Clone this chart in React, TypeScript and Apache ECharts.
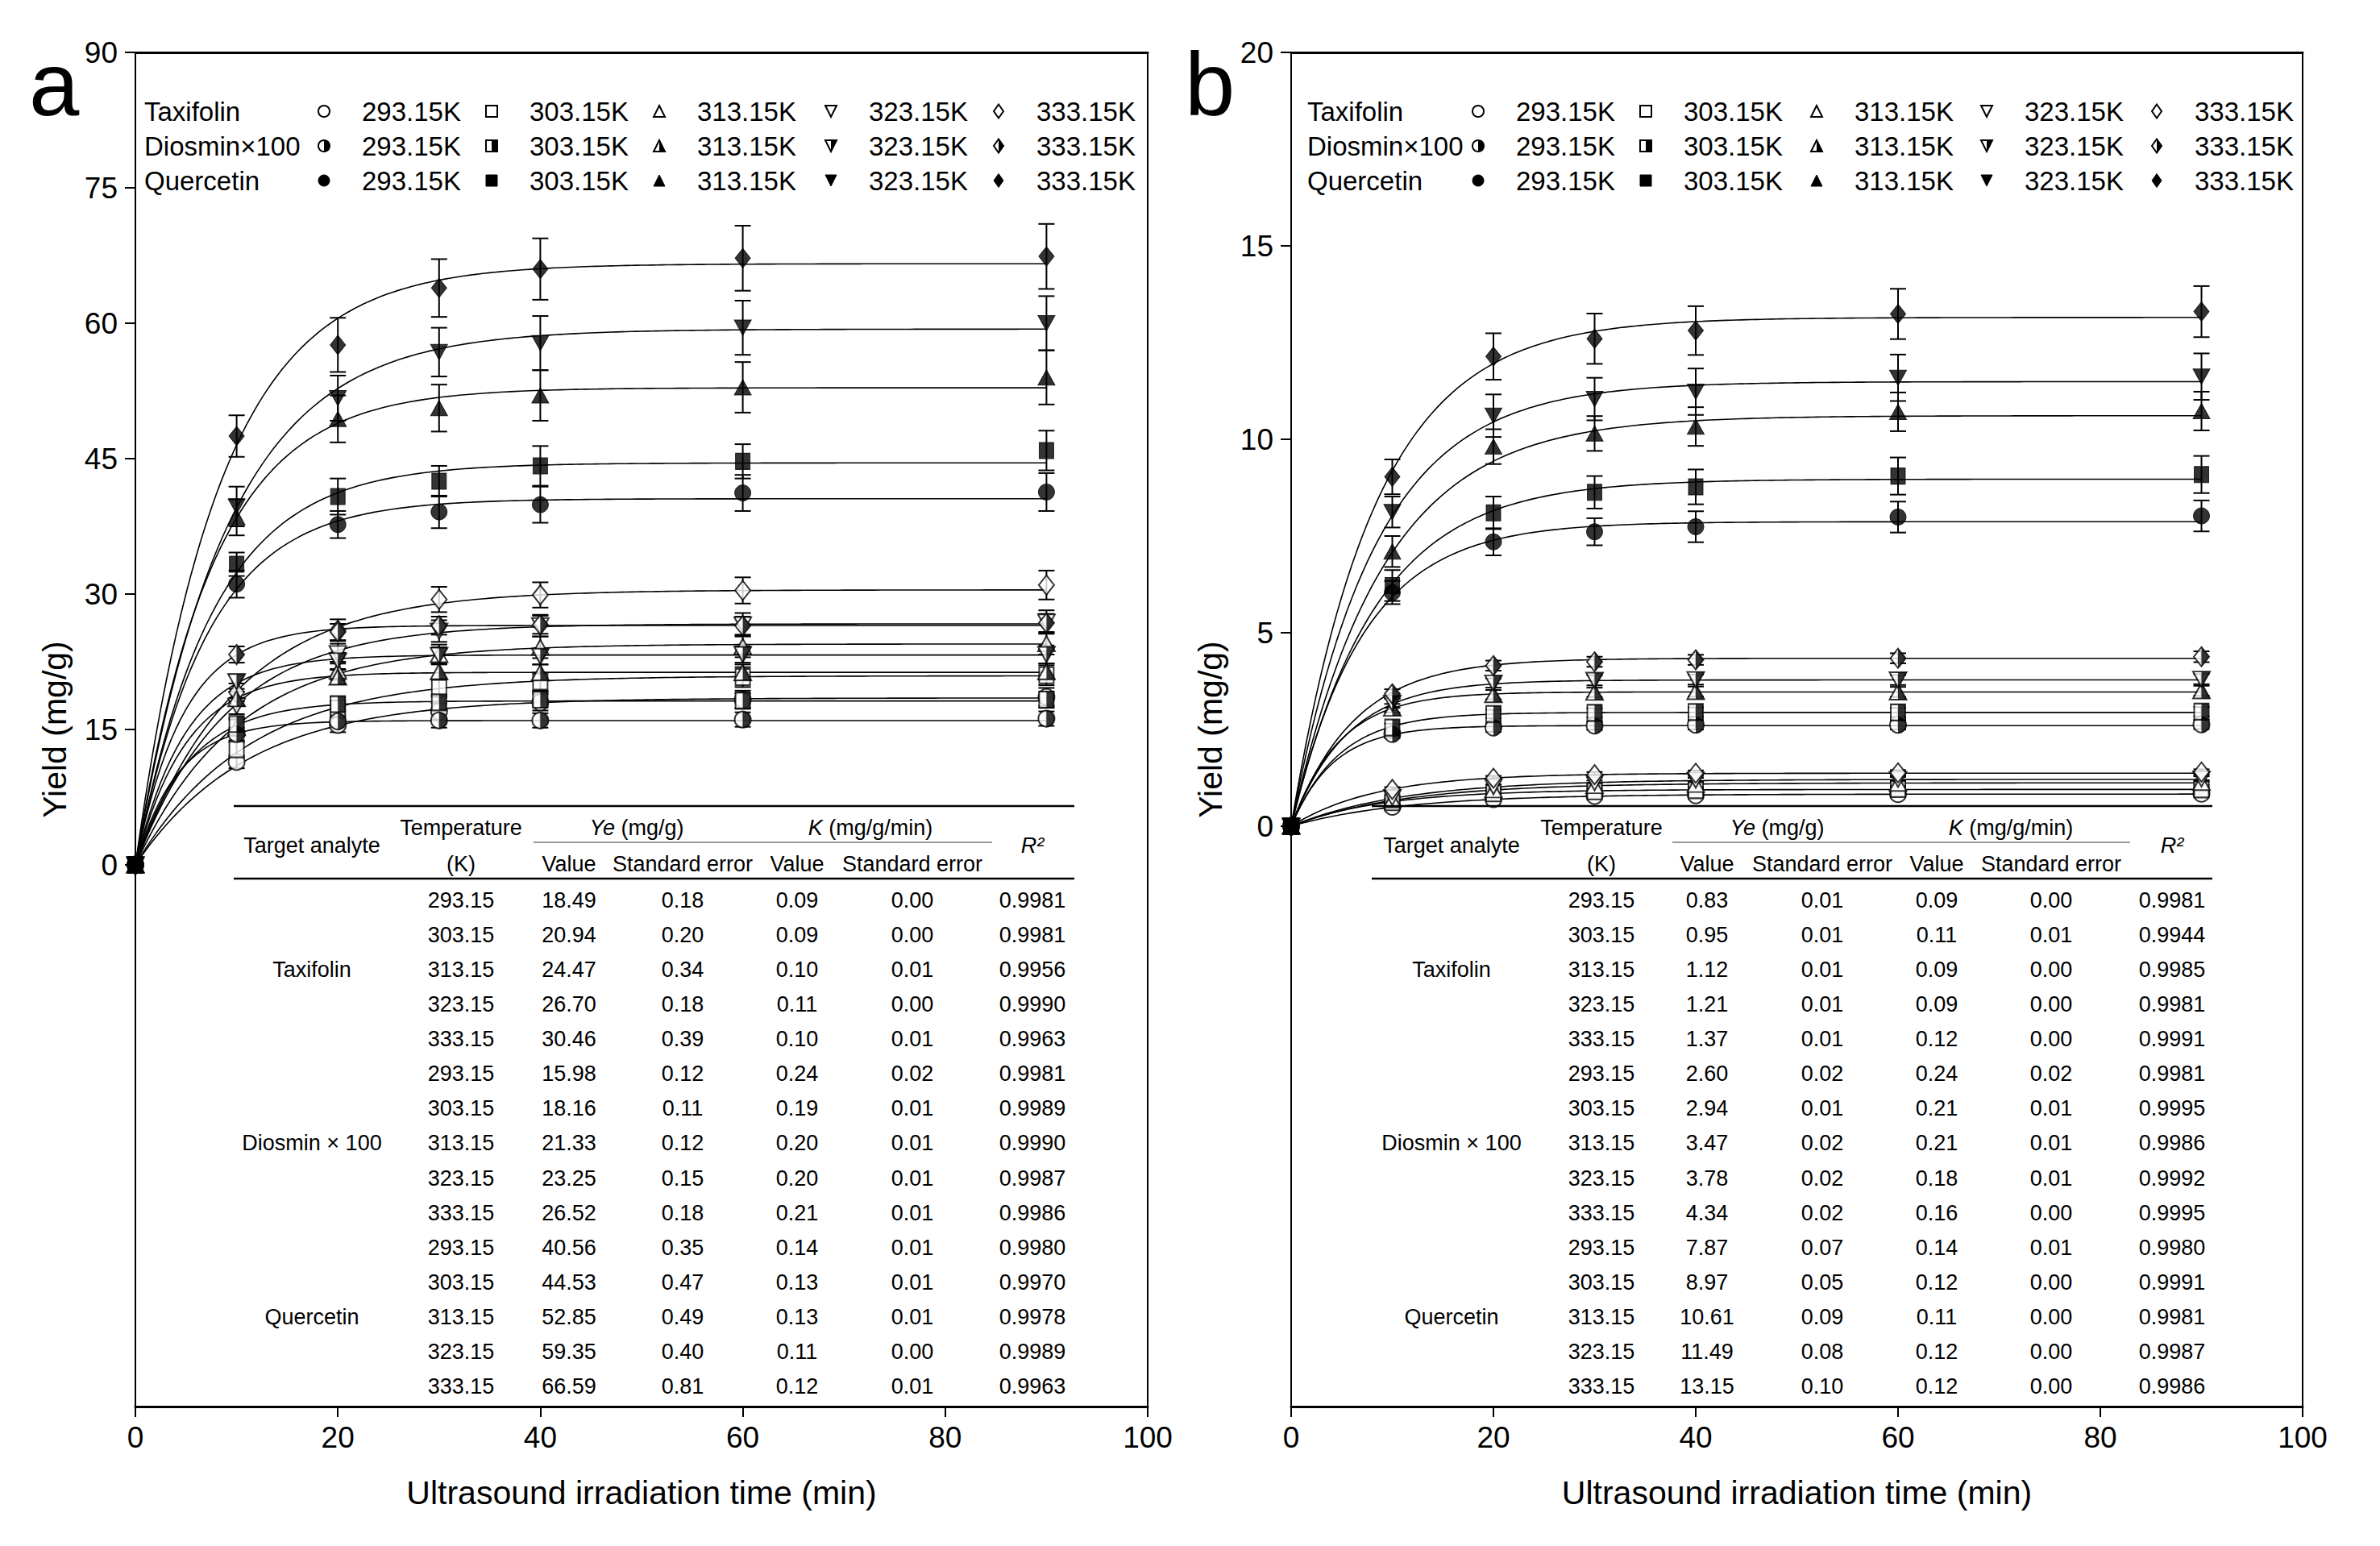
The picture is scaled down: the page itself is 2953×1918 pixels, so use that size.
import React, { useEffect, useRef } from "react";
import * as echarts from "echarts";

const FONT = '"Liberation Sans", Arial, Helvetica, sans-serif';

// ---------- categories / ticks ----------
const TIMES = [0, 10, 20, 30, 40, 60, 90];
const TEMPERATURES = ["293.15", "303.15", "313.15", "323.15", "333.15"];
const LEGEND_ROWS = ["Taxifolin", "Diosmin×100", "Quercetin"];
const TABLE_ANALYTES = ["Taxifolin", "Diosmin × 100", "Quercetin"];
const A_Y_TICKS = [0, 15, 30, 45, 60, 75, 90];
const B_Y_TICKS = [0, 5, 10, 15, 20];

// ---------- panel a: measured points (mg/g) ----------
const A_TAX_POINTS = [
  [0, 11.4, 15.5, 17.0, 18.0, 18.3, 18.6],
  [0, 12.8, 17.3, 19.6, 20.3, 20.8, 21.0],
  [0, 15.2, 21.5, 23.3, 24.1, 24.2, 24.5],
  [0, 17.6, 23.4, 25.9, 26.5, 26.6, 26.9],
  [0, 19.1, 26.0, 29.4, 29.9, 30.4, 31.0],
];
const A_TAX_ERR = [
  [0, 0.7, 0.8, 0.9, 0.9, 1.0, 1.0],
  [0, 0.8, 0.9, 1.0, 1.0, 1.1, 1.1],
  [0, 0.9, 1.0, 1.1, 1.2, 1.2, 1.2],
  [0, 0.9, 1.1, 1.2, 1.2, 1.3, 1.3],
  [0, 1.0, 1.2, 1.4, 1.4, 1.45, 1.6],
];
const A_DIO_POINTS = [
  [0, 14.5, 15.9, 16.0, 16.0, 16.1, 16.2],
  [0, 15.6, 17.8, 18.0, 18.3, 18.2, 18.3],
  [0, 18.4, 20.8, 21.4, 21.3, 21.3, 21.4],
  [0, 20.3, 22.6, 23.2, 23.1, 23.3, 23.3],
  [0, 23.3, 25.8, 26.5, 26.6, 26.5, 26.8],
];
const A_DIO_ERR = [
  [0, 0.7, 0.7, 0.8, 0.8, 0.8, 0.8],
  [0, 0.7, 0.8, 0.8, 0.8, 0.8, 0.9],
  [0, 0.8, 0.8, 0.9, 0.9, 0.9, 0.9],
  [0, 0.8, 0.9, 0.9, 0.9, 0.9, 1.0],
  [0, 0.9, 0.9, 1.0, 1.0, 1.0, 1.0],
];
const A_QUE_POINTS = [
  [0, 31.1, 37.7, 39.1, 39.9, 41.2, 41.3],
  [0, 33.3, 40.8, 42.5, 44.2, 44.7, 45.9],
  [0, 38.5, 49.4, 50.6, 52.0, 52.9, 54.0],
  [0, 39.7, 51.7, 56.8, 57.8, 59.5, 60.0],
  [0, 47.5, 57.6, 63.9, 66.0, 67.2, 67.4],
];
const A_QUE_ERR = [
  [0, 1.5, 1.5, 1.8, 2.0, 2.0, 2.1],
  [0, 1.3, 2.0, 1.7, 2.2, 1.9, 2.2],
  [0, 2.0, 2.6, 2.6, 2.8, 2.8, 3.0],
  [0, 2.2, 2.5, 2.7, 3.0, 3.0, 3.0],
  [0, 2.3, 3.0, 3.2, 3.4, 3.6, 3.6],
];

// ---------- panel a: fitted parameters (table) ----------
const A_TAX_YE = [18.49, 20.94, 24.47, 26.7, 30.46];
const A_TAX_YE_SE = [0.18, 0.2, 0.34, 0.18, 0.39];
const A_TAX_K = [0.09, 0.09, 0.1, 0.11, 0.1];
const A_TAX_K_SE = [0.0, 0.0, 0.01, 0.0, 0.01];
const A_TAX_R2 = [0.9981, 0.9981, 0.9956, 0.999, 0.9963];
const A_DIO_YE = [15.98, 18.16, 21.33, 23.25, 26.52];
const A_DIO_YE_SE = [0.12, 0.11, 0.12, 0.15, 0.18];
const A_DIO_K = [0.24, 0.19, 0.2, 0.2, 0.21];
const A_DIO_K_SE = [0.02, 0.01, 0.01, 0.01, 0.01];
const A_DIO_R2 = [0.9981, 0.9989, 0.999, 0.9987, 0.9986];
const A_QUE_YE = [40.56, 44.53, 52.85, 59.35, 66.59];
const A_QUE_YE_SE = [0.35, 0.47, 0.49, 0.4, 0.81];
const A_QUE_K = [0.14, 0.13, 0.13, 0.11, 0.12];
const A_QUE_K_SE = [0.01, 0.01, 0.01, 0.0, 0.01];
const A_QUE_R2 = [0.998, 0.997, 0.9978, 0.9989, 0.9963];

// ---------- panel b: measured points (mg/g) ----------
const B_TAX_POINTS = [
  [0, 0.5, 0.7, 0.78, 0.8, 0.83, 0.84],
  [0, 0.62, 0.85, 0.9, 0.93, 0.96, 0.95],
  [0, 0.68, 0.94, 1.05, 1.08, 1.11, 1.13],
  [0, 0.74, 1.02, 1.12, 1.19, 1.21, 1.22],
  [0, 0.95, 1.24, 1.33, 1.37, 1.38, 1.4],
];
const B_TAX_ERR = [
  [0, 0.04, 0.05, 0.05, 0.05, 0.05, 0.05],
  [0, 0.04, 0.05, 0.05, 0.06, 0.06, 0.06],
  [0, 0.05, 0.05, 0.06, 0.06, 0.06, 0.06],
  [0, 0.05, 0.06, 0.06, 0.06, 0.06, 0.07],
  [0, 0.06, 0.06, 0.07, 0.07, 0.07, 0.07],
];
const B_DIO_POINTS = [
  [0, 2.38, 2.55, 2.6, 2.62, 2.62, 2.63],
  [0, 2.55, 2.9, 2.93, 2.95, 2.94, 2.96],
  [0, 3.05, 3.4, 3.46, 3.48, 3.47, 3.5],
  [0, 3.18, 3.7, 3.77, 3.79, 3.78, 3.8],
  [0, 3.42, 4.15, 4.25, 4.3, 4.34, 4.38],
];
const B_DIO_ERR = [
  [0, 0.1, 0.11, 0.11, 0.12, 0.12, 0.12],
  [0, 0.1, 0.11, 0.12, 0.12, 0.12, 0.12],
  [0, 0.11, 0.12, 0.12, 0.13, 0.13, 0.13],
  [0, 0.12, 0.12, 0.13, 0.13, 0.13, 0.13],
  [0, 0.12, 0.13, 0.13, 0.13, 0.13, 0.14],
];
const B_QUE_POINTS = [
  [0, 6.04, 7.35, 7.61, 7.74, 7.99, 8.02],
  [0, 6.22, 8.1, 8.63, 8.77, 9.05, 9.09],
  [0, 7.1, 9.81, 10.15, 10.33, 10.71, 10.73],
  [0, 8.12, 10.61, 11.04, 11.23, 11.59, 11.62],
  [0, 9.03, 12.14, 12.6, 12.81, 13.24, 13.3],
];
const B_QUE_ERR = [
  [0, 0.3, 0.35, 0.35, 0.4, 0.4, 0.4],
  [0, 0.4, 0.42, 0.42, 0.45, 0.48, 0.48],
  [0, 0.4, 0.45, 0.45, 0.5, 0.5, 0.5],
  [0, 0.4, 0.55, 0.55, 0.6, 0.6, 0.6],
  [0, 0.45, 0.6, 0.65, 0.63, 0.65, 0.66],
];

// ---------- panel b: fitted parameters (table) ----------
const B_TAX_YE = [0.83, 0.95, 1.12, 1.21, 1.37];
const B_TAX_YE_SE = [0.01, 0.01, 0.01, 0.01, 0.01];
const B_TAX_K = [0.09, 0.11, 0.09, 0.09, 0.12];
const B_TAX_K_SE = [0.0, 0.01, 0.0, 0.0, 0.0];
const B_TAX_R2 = [0.9981, 0.9944, 0.9985, 0.9981, 0.9991];
const B_DIO_YE = [2.6, 2.94, 3.47, 3.78, 4.34];
const B_DIO_YE_SE = [0.02, 0.01, 0.02, 0.02, 0.02];
const B_DIO_K = [0.24, 0.21, 0.21, 0.18, 0.16];
const B_DIO_K_SE = [0.02, 0.01, 0.01, 0.01, 0.0];
const B_DIO_R2 = [0.9981, 0.9995, 0.9986, 0.9992, 0.9995];
const B_QUE_YE = [7.87, 8.97, 10.61, 11.49, 13.15];
const B_QUE_YE_SE = [0.07, 0.05, 0.09, 0.08, 0.1];
const B_QUE_K = [0.14, 0.12, 0.11, 0.12, 0.12];
const B_QUE_K_SE = [0.01, 0.0, 0.0, 0.0, 0.0];
const B_QUE_R2 = [0.998, 0.9991, 0.9981, 0.9987, 0.9986];

// sampling times for the fitted first-order curves Y = Ye(1 - exp(-K t))
const FIT_T = Array.from({ length: 181 }, (_, i) => i * 0.5);

// ---------- marker shapes ----------
const SYMBOLS = ["circle", "rect", "triangle", "path://M0,0 L100,0 L50,100 Z", "diamond"];
const HALF_SYMBOLS = [
  "path://M50,0 C77.6,0 100,22.4 100,50 C100,77.6 77.6,100 50,100 Z M0,50 L0.01,50 L0,50.01 Z",
  "path://M50,0 L100,0 L100,100 L50,100 Z M0,0 L0.01,0 L0,0.01 Z",
  "path://M50,0 L100,100 L50,100 Z M0,100 L0.01,100 L0,99.99 Z",
  "path://M50,100 L100,0 L50,0 Z M0,0 L0.01,0 L0,0.01 Z",
  "path://M50,0 L100,50 L50,100 Z M0,50 L0.01,50 L0,50.01 Z",
];
const SYMBOL_SIZES: any[] = [20, [18, 20], [21, 19], [21, 19], [19, 24]];

type PanelCfg = {
  grid: { left: number; top: number; width: number; height: number };
  yMin: number; yMax: number; yInterval: number; yTicks: number[];
  letter: string; letterX: number;
  legendLabelX: number; legendSymX: number[];
  table: {
    x1: number; x2: number; gx1: number; gx2: number;
    analyte: number; temp: number; v: number; se: number; kv: number; kse: number; r2: number;
    yeHdr: number; kHdr: number;
  };
  points: number[][][]; errs: number[][][];
  ye: number[][]; yeSe: number[][]; k: number[][]; kSe: number[][]; r2: number[][];
};

const PANELS: PanelCfg[] = [
  {
    grid: { left: 168, top: 65, width: 1256, height: 1680 },
    yMin: -60, yMax: 90, yInterval: 15, yTicks: A_Y_TICKS,
    letter: "a", letterX: 36,
    legendLabelX: 179, legendSymX: [402, 610, 818, 1031, 1239],
    table: { x1: 290, x2: 1333, gx1: 662, gx2: 1231, analyte: 387, temp: 572, v: 706, se: 847, kv: 989, kse: 1132, r2: 1281, yeHdr: 790, kHdr: 1080 },
    points: [A_TAX_POINTS, A_DIO_POINTS, A_QUE_POINTS],
    errs: [A_TAX_ERR, A_DIO_ERR, A_QUE_ERR],
    ye: [A_TAX_YE, A_DIO_YE, A_QUE_YE], yeSe: [A_TAX_YE_SE, A_DIO_YE_SE, A_QUE_YE_SE],
    k: [A_TAX_K, A_DIO_K, A_QUE_K], kSe: [A_TAX_K_SE, A_DIO_K_SE, A_QUE_K_SE],
    r2: [A_TAX_R2, A_DIO_R2, A_QUE_R2],
  },
  {
    grid: { left: 1602, top: 65, width: 1255, height: 1680 },
    yMin: -15, yMax: 20, yInterval: 5, yTicks: B_Y_TICKS,
    letter: "b", letterX: 1470,
    legendLabelX: 1622, legendSymX: [1834, 2042, 2254, 2465, 2676],
    table: { x1: 1702, x2: 2745, gx1: 2075, gx2: 2643, analyte: 1801, temp: 1987, v: 2118, se: 2261, kv: 2403, kse: 2545, r2: 2695, yeHdr: 2205, kHdr: 2495 },
    points: [B_TAX_POINTS, B_DIO_POINTS, B_QUE_POINTS],
    errs: [B_TAX_ERR, B_DIO_ERR, B_QUE_ERR],
    ye: [B_TAX_YE, B_DIO_YE, B_QUE_YE], yeSe: [B_TAX_YE_SE, B_DIO_YE_SE, B_QUE_YE_SE],
    k: [B_TAX_K, B_DIO_K, B_QUE_K], kSe: [B_TAX_K_SE, B_DIO_K_SE, B_QUE_K_SE],
    r2: [B_TAX_R2, B_DIO_R2, B_QUE_R2],
  },
];

const LEGEND_ROW_Y = [138, 181, 224];
const TABLE_HDR1_Y = 1027;
const TABLE_HDR2_Y = 1072;
const TABLE_HDR_MID_Y = 1049;
const TABLE_ROW0_Y = 1117;
const TABLE_ROW_DY = 43.07;

function txt(text: string, x: number, y: number, o: any = {}) {
  const align = o.align || "center";
  return {
    type: "text",
    x, y, silent: true, z: 50,
    style: {
      text,
      fontSize: o.size || 27,
      fontFamily: FONT,
      fontStyle: o.italic ? "italic" : "normal",
      fill: "#000",
      align, textAlign: align,
      verticalAlign: "middle", textVerticalAlign: "middle",
      rich: o.rich,
    },
  };
}
function hline(x1: number, x2: number, y: number, color: string, w: number) {
  return { type: "line", silent: true, z: 50, shape: { x1, y1: y, x2, y2: y }, style: { stroke: color, lineWidth: w } };
}

function legendSymbol(shape: number, kind: number, cx: number, cy: number): any[] {
  const w = shape === 4 ? 12 : 14;
  const h = shape === 4 ? 17 : 14;
  const base =
    kind === 2
      ? { fill: "#000", stroke: "#000", lineWidth: 1 }
      : { fill: "#fff", stroke: "#000", lineWidth: 2 };
  const els: any[] = [];
  const common = { silent: true, z: 50 };
  if (shape === 0) els.push({ type: "circle", ...common, shape: { cx, cy, r: w / 2 }, style: base });
  if (shape === 1) els.push({ type: "rect", ...common, shape: { x: cx - w / 2, y: cy - h / 2, width: w, height: h }, style: base });
  if (shape === 2) els.push({ type: "polygon", ...common, shape: { points: [[cx, cy - h / 2], [cx + w / 2, cy + h / 2], [cx - w / 2, cy + h / 2]] }, style: base });
  if (shape === 3) els.push({ type: "polygon", ...common, shape: { points: [[cx - w / 2, cy - h / 2], [cx + w / 2, cy - h / 2], [cx, cy + h / 2]] }, style: base });
  if (shape === 4) els.push({ type: "polygon", ...common, shape: { points: [[cx, cy - h / 2], [cx + w / 2, cy], [cx, cy + h / 2], [cx - w / 2, cy]] }, style: base });
  if (kind === 1) {
    const hs = { fill: "#000" };
    const c2 = { silent: true, z: 51 };
    if (shape === 0) els.push({ type: "sector", ...c2, shape: { cx, cy, r0: 0, r: w / 2, startAngle: -Math.PI / 2, endAngle: Math.PI / 2, clockwise: true }, style: hs });
    if (shape === 1) els.push({ type: "rect", ...c2, shape: { x: cx, y: cy - h / 2, width: w / 2, height: h }, style: hs });
    if (shape === 2) els.push({ type: "polygon", ...c2, shape: { points: [[cx, cy - h / 2], [cx + w / 2, cy + h / 2], [cx, cy + h / 2]] }, style: hs });
    if (shape === 3) els.push({ type: "polygon", ...c2, shape: { points: [[cx, cy + h / 2], [cx + w / 2, cy - h / 2], [cx, cy - h / 2]] }, style: hs });
    if (shape === 4) els.push({ type: "polygon", ...c2, shape: { points: [[cx, cy - h / 2], [cx + w / 2, cy], [cx, cy + h / 2]] }, style: hs });
  }
  return els;
}

function errorBarRender(params: any, api: any) {
  const x = api.value(0);
  const y = api.value(1);
  const e = api.value(2);
  const top = api.coord([x, y + e]);
  const bot = api.coord([x, y - e]);
  const cw = 10;
  const st = { stroke: "#000", lineWidth: 2 };
  return {
    type: "group",
    children: [
      { type: "line", shape: { x1: top[0], y1: top[1], x2: bot[0], y2: bot[1] }, style: st },
      { type: "line", shape: { x1: top[0] - cw, y1: top[1], x2: top[0] + cw, y2: top[1] }, style: st },
      { type: "line", shape: { x1: bot[0] - cw, y1: bot[1], x2: bot[0] + cw, y2: bot[1] }, style: st },
    ],
  };
}

function buildOption() {
  const grid: any[] = [];
  const xAxis: any[] = [];
  const yAxis: any[] = [];
  const series: any[] = [];
  const graphic: any[] = [];

  PANELS.forEach((cfg, p) => {
    grid.push({ ...cfg.grid, show: true, borderColor: "#000", borderWidth: 2, backgroundColor: "transparent", containLabel: false });
    xAxis.push({
      type: "value", gridIndex: p, min: 0, max: 100, interval: 20, position: "bottom",
      axisLine: { show: true, onZero: false, lineStyle: { color: "#000", width: 3 } },
      axisTick: { show: true, inside: false, length: 13, lineStyle: { color: "#000", width: 2 } },
      axisLabel: { show: true, fontSize: 37, color: "#000", fontFamily: FONT, margin: 20 },
      splitLine: { show: false },
      name: "Ultrasound irradiation time (min)", nameLocation: "middle", nameGap: 86,
      nameTextStyle: { fontSize: 41, color: "#000", fontFamily: FONT },
    });
    xAxis.push({
      type: "value", gridIndex: p, min: 0, max: 100, position: "top",
      axisLine: { show: true, onZero: false, lineStyle: { color: "#000", width: 3 } },
      axisTick: { show: false }, axisLabel: { show: false }, splitLine: { show: false },
    });
    yAxis.push({
      type: "value", gridIndex: p, min: cfg.yMin, max: cfg.yMax, interval: cfg.yInterval,
      axisLine: { show: true, onZero: false, lineStyle: { color: "#000", width: 2 } },
      axisTick: { show: true, inside: false, length: 13, customValues: cfg.yTicks, lineStyle: { color: "#000", width: 2 } },
      axisLabel: { show: true, customValues: cfg.yTicks, fontSize: 37, color: "#000", fontFamily: FONT, margin: 22 },
      splitLine: { show: false },
      name: "Yield (mg/g)", nameLocation: "middle", nameGap: 80,
      nameTextStyle: { fontSize: 41, color: "#000", fontFamily: FONT },
    });

    const xi = p * 2;
    for (let a = 0; a < 3; a++) {
      for (let i = 0; i < 5; i++) {
        const pts = cfg.points[a][i];
        const errs = cfg.errs[a][i];
        const ye = cfg.ye[a][i];
        const k = cfg.k[a][i];
        const key = `${"abc"[p]}-${a}-${i}`;
        series.push({
          id: `fit-${key}`, type: "line", xAxisIndex: xi, yAxisIndex: p,
          data: FIT_T.map((t) => [t, ye * (1 - Math.exp(-k * t))]),
          showSymbol: false, symbol: "none", silent: true, z: 2,
          lineStyle: { color: "#000", width: 1.6 },
        });
        series.push({
          id: `err-${key}`, type: "custom", xAxisIndex: xi, yAxisIndex: p, silent: true, z: 3,
          renderItem: errorBarRender,
          encode: { x: 0, y: 1 },
          data: TIMES.slice(1).map((t, j) => [t, pts[j + 1], errs[j + 1]]),
        });
        series.push({
          id: `pts-${key}`, type: "scatter", xAxisIndex: xi, yAxisIndex: p, silent: true, z: 4,
          symbol: SYMBOLS[i], symbolSize: SYMBOL_SIZES[i],
          itemStyle: a === 2 ? { color: "#000", borderColor: "#000", borderWidth: 1 } : { color: "#fff", borderColor: "#000", borderWidth: 2 },
          data: TIMES.map((t, j) => [t, pts[j]]),
        });
        if (a === 1) {
          series.push({
            id: `half-${key}`, type: "scatter", xAxisIndex: xi, yAxisIndex: p, silent: true, z: 5,
            symbol: HALF_SYMBOLS[i], symbolSize: SYMBOL_SIZES[i],
            itemStyle: { color: "#000", borderWidth: 0 },
            data: TIMES.map((t, j) => [t, pts[j]]),
          });
        }
      }
    }

    // panel letter
    graphic.push(txt(cfg.letter, cfg.letterX, 104, { size: 112, align: "left" }));

    // legend
    LEGEND_ROWS.forEach((row, r) => {
      const y = LEGEND_ROW_Y[r];
      graphic.push(txt(row, cfg.legendLabelX, y, { size: 33, align: "left" }));
      TEMPERATURES.forEach((tmp, i) => {
        const sx = cfg.legendSymX[i];
        legendSymbol(i, r, sx, y).forEach((el) => graphic.push(el));
        graphic.push(txt(`${tmp}K`, sx + 47, y, { size: 33, align: "left" }));
      });
    });

    // table
    const T = cfg.table;
    graphic.push(hline(T.x1, T.x2, 1000, "#000", 2.5));
    graphic.push(hline(T.gx1, T.gx2, 1045, "#999", 2));
    graphic.push(hline(T.x1, T.x2, 1090, "#000", 2.5));
    graphic.push(txt("Target analyte", T.analyte, TABLE_HDR_MID_Y));
    graphic.push(txt("Temperature", T.temp, TABLE_HDR1_Y));
    graphic.push(txt("(K)", T.temp, TABLE_HDR2_Y));
    graphic.push(txt("{i|Ye} (mg/g)", T.yeHdr, TABLE_HDR1_Y, { rich: { i: { fontStyle: "italic", fontSize: 27, fontFamily: FONT } } }));
    graphic.push(txt("{i|K} (mg/g/min)", T.kHdr, TABLE_HDR1_Y, { rich: { i: { fontStyle: "italic", fontSize: 27, fontFamily: FONT } } }));
    graphic.push(txt("R²", T.r2, TABLE_HDR_MID_Y, { italic: true }));
    graphic.push(txt("Value", T.v, TABLE_HDR2_Y));
    graphic.push(txt("Standard error", T.se, TABLE_HDR2_Y));
    graphic.push(txt("Value", T.kv, TABLE_HDR2_Y));
    graphic.push(txt("Standard error", T.kse, TABLE_HDR2_Y));
    for (let a = 0; a < 3; a++) {
      graphic.push(txt(TABLE_ANALYTES[a], T.analyte, TABLE_ROW0_Y + (a * 5 + 2) * TABLE_ROW_DY));
      for (let i = 0; i < 5; i++) {
        const y = TABLE_ROW0_Y + (a * 5 + i) * TABLE_ROW_DY;
        graphic.push(txt(TEMPERATURES[i], T.temp, y));
        graphic.push(txt(cfg.ye[a][i].toFixed(2), T.v, y));
        graphic.push(txt(cfg.yeSe[a][i].toFixed(2), T.se, y));
        graphic.push(txt(cfg.k[a][i].toFixed(2), T.kv, y));
        graphic.push(txt(cfg.kSe[a][i].toFixed(2), T.kse, y));
        graphic.push(txt(cfg.r2[a][i].toFixed(4), T.r2, y));
      }
    }
  });

  return {
    animation: false,
    backgroundColor: "#fff",
    textStyle: { fontFamily: FONT },
    grid, xAxis, yAxis, series, graphic,
  };
}

export default function App() {
  const ref = useRef<HTMLDivElement>(null);
  useEffect(() => {
    if (!ref.current) return;
    const chart = echarts.init(ref.current, undefined, { renderer: "svg" });
    chart.setOption(buildOption() as any);
    return () => chart.dispose();
  }, []);
  return (
    <div
      ref={ref}
      style={{ position: "absolute", left: 0, top: 0, width: "2953px", height: "1918px", background: "#fff" }}
    />
  );
}
